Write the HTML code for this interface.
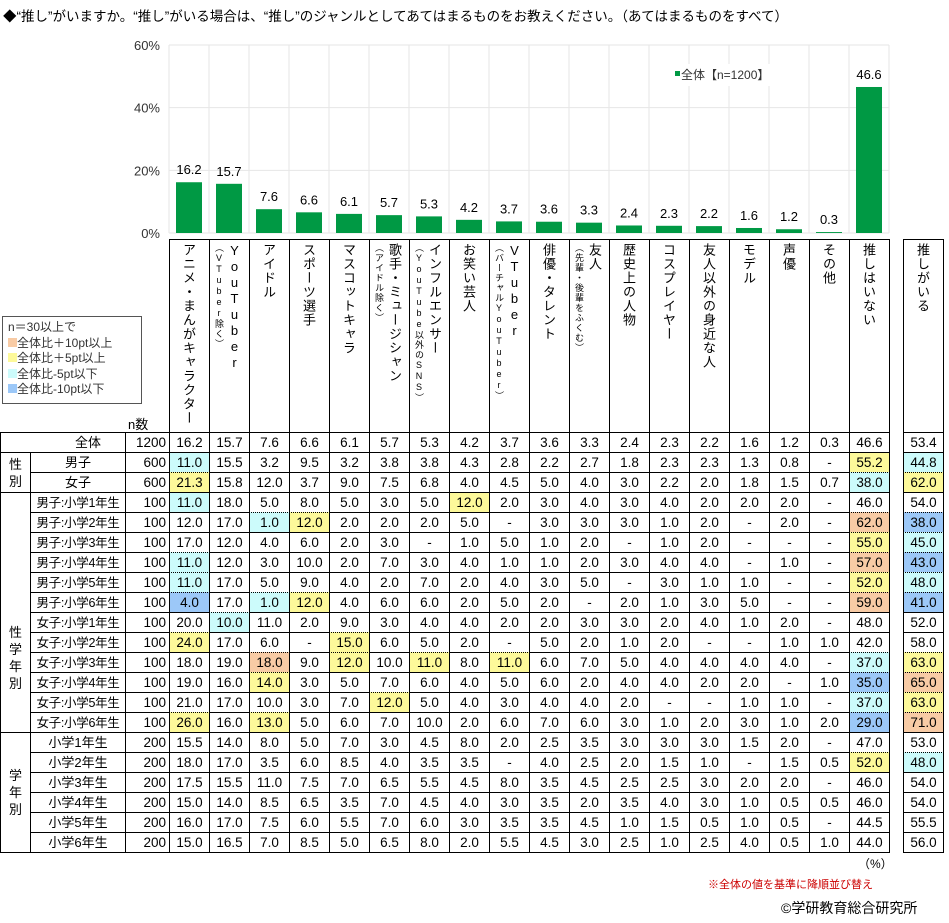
<!DOCTYPE html>
<html><head><meta charset="utf-8">
<style>
body{margin:0;width:949px;height:923px;background:#fff;font-family:"Liberation Sans","Noto Sans CJK JP",sans-serif;color:#000;position:relative;overflow:hidden}
.a{position:absolute;box-sizing:border-box}
.c{position:absolute;box-sizing:border-box;text-align:center;font-size:13.5px;line-height:20px;height:20px;white-space:nowrap}
.hd{position:absolute;box-sizing:border-box;writing-mode:vertical-rl;text-orientation:upright;font-size:13px;line-height:15px;padding-top:3px;letter-spacing:1px;white-space:nowrap}
.hd small{font-size:9px;line-height:13px;letter-spacing:1px}
</style></head><body>
<div class="a" style="left:3px;top:5px;font-size:13.5px;white-space:nowrap">◆“推し”がいますか。“推し”がいる場合は、“推し”のジャンルとしてあてはまるものをお教えください。（あてはまるものをすべて）</div>
<svg id="chart" class="a" style="left:0;top:0" width="949" height="240"></svg>
<div id="tbl"></div>
<div class="a" style="left:2px;top:316px;width:140px;height:88px;border:1px solid #555;font-size:12px;line-height:15.5px;padding:3px 0 0 5px;color:#333">
n＝30以上で<br>
<span style="display:inline-block;width:9px;height:9px;background:#f8cba5"></span>全体比＋10pt以上<br>
<span style="display:inline-block;width:9px;height:9px;background:#fdf99a"></span>全体比＋5pt以上<br>
<span style="display:inline-block;width:9px;height:9px;background:#ccfbfb"></span>全体比-5pt以下<br>
<span style="display:inline-block;width:9px;height:9px;background:#9cc8f8"></span>全体比-10pt以下</div>
<div class="a" style="left:128px;top:414px;font-size:13px">n数</div>
<div class="a" style="left:858px;top:855px;font-size:12px">（%）</div>
<div class="a" style="left:708px;top:876px;font-size:11px;color:#c00">※全体の値を基準に降順並び替え</div>
<div class="a" style="left:781px;top:898px;font-size:14px">©学研教育総合研究所</div>
<script>
const categories=["アニメ・まんがキャラクター","YouTuber|（VTuber除く）","アイドル","スポーツ選手","マスコットキャラ","歌手・ミュージシャン|（アイドル除く）","インフルエンサー|（YouTube以外のSNS）","お笑い芸人","VTuber|（バーチャルYouTuber）","俳優・タレント","友人|（先輩・後輩をふくむ）","歴史上の人物","コスプレイヤー","友人以外の身近な人","モデル","声優","その他","推しはいない"];
const overall=[16.2,15.7,7.6,6.6,6.1,5.7,5.3,4.2,3.7,3.6,3.3,2.4,2.3,2.2,1.6,1.2,0.3,46.6];
const yTicks=[0,20,40,60];
const rowLabels=["全体","男子","女子","男子:小学1年生","男子:小学2年生","男子:小学3年生","男子:小学4年生","男子:小学5年生","男子:小学6年生","女子:小学1年生","女子:小学2年生","女子:小学3年生","女子:小学4年生","女子:小学5年生","女子:小学6年生","小学1年生","小学2年生","小学3年生","小学4年生","小学5年生","小学6年生"];
const rowN=[1200,600,600,100,100,100,100,100,100,100,100,100,100,100,100,200,200,200,200,200,200];
const rowValues=[
"16.2 15.7 7.6 6.6 6.1 5.7 5.3 4.2 3.7 3.6 3.3 2.4 2.3 2.2 1.6 1.2 0.3 46.6 53.4",
"11.0 15.5 3.2 9.5 3.2 3.8 3.8 4.3 2.8 2.2 2.7 1.8 2.3 2.3 1.3 0.8 - 55.2 44.8",
"21.3 15.8 12.0 3.7 9.0 7.5 6.8 4.0 4.5 5.0 4.0 3.0 2.2 2.0 1.8 1.5 0.7 38.0 62.0",
"11.0 18.0 5.0 8.0 5.0 3.0 5.0 12.0 2.0 3.0 4.0 3.0 4.0 2.0 2.0 2.0 - 46.0 54.0",
"12.0 17.0 1.0 12.0 2.0 2.0 2.0 5.0 - 3.0 3.0 3.0 1.0 2.0 - 2.0 - 62.0 38.0",
"17.0 12.0 4.0 6.0 2.0 3.0 - 1.0 5.0 1.0 2.0 - 1.0 2.0 - - - 55.0 45.0",
"11.0 12.0 3.0 10.0 2.0 7.0 3.0 4.0 1.0 1.0 2.0 3.0 4.0 4.0 - 1.0 - 57.0 43.0",
"11.0 17.0 5.0 9.0 4.0 2.0 7.0 2.0 4.0 3.0 5.0 - 3.0 1.0 1.0 - - 52.0 48.0",
"4.0 17.0 1.0 12.0 4.0 6.0 6.0 2.0 5.0 2.0 - 2.0 1.0 3.0 5.0 - - 59.0 41.0",
"20.0 10.0 11.0 2.0 9.0 3.0 4.0 4.0 2.0 2.0 3.0 3.0 2.0 4.0 1.0 2.0 - 48.0 52.0",
"24.0 17.0 6.0 - 15.0 6.0 5.0 2.0 - 5.0 2.0 1.0 2.0 - - 1.0 1.0 42.0 58.0",
"18.0 19.0 18.0 9.0 12.0 10.0 11.0 8.0 11.0 6.0 7.0 5.0 4.0 4.0 4.0 4.0 - 37.0 63.0",
"19.0 16.0 14.0 3.0 5.0 7.0 6.0 4.0 5.0 6.0 2.0 4.0 4.0 2.0 2.0 - 1.0 35.0 65.0",
"21.0 17.0 10.0 3.0 7.0 12.0 5.0 4.0 3.0 4.0 4.0 2.0 - - 1.0 1.0 - 37.0 63.0",
"26.0 16.0 13.0 5.0 6.0 7.0 10.0 2.0 6.0 7.0 6.0 3.0 1.0 2.0 3.0 1.0 2.0 29.0 71.0",
"15.5 14.0 8.0 5.0 7.0 3.0 4.5 8.0 2.0 2.5 3.5 3.0 3.0 3.0 1.5 2.0 - 47.0 53.0",
"18.0 17.0 3.5 6.0 8.5 4.0 3.5 3.5 - 4.0 2.5 2.0 1.5 1.0 - 1.5 0.5 52.0 48.0",
"17.5 15.5 11.0 7.5 7.0 6.5 5.5 4.5 8.0 3.5 4.5 2.5 2.5 3.0 2.0 2.0 - 46.0 54.0",
"15.0 14.0 8.5 6.5 3.5 7.0 4.5 4.0 3.0 3.5 2.0 3.5 4.0 3.0 1.0 0.5 0.5 46.0 54.0",
"16.0 17.0 7.5 6.0 5.5 7.0 6.0 3.0 3.5 3.5 4.5 1.0 1.5 0.5 1.0 0.5 - 44.5 55.5",
"15.0 16.5 7.0 8.5 5.0 6.5 8.0 2.0 5.5 4.5 3.0 2.5 1.0 2.5 4.0 0.5 1.0 44.0 56.0"];

const X0=169,CW=40,Y0=233,YT=45;
const y=v=>Y0-(Y0-YT)*v/60;
const colX=i=>X0+i*CW;
const NS="http://www.w3.org/2000/svg";
const svg=document.getElementById('chart');
function sv(tag,at){const e=document.createElementNS(NS,tag);for(const k in at)e.setAttribute(k,at[k]);svg.appendChild(e);return e;}
const plotR=colX(categories.length);
yTicks.forEach(t=>{
  const g=sv('line',{x1:X0,x2:plotR,y1:y(t),y2:y(t),stroke:'#e6e6e6','stroke-width':1});
  
  
  const tx=sv('text',{x:160,y:y(t)+5,'text-anchor':'end','font-size':13,fill:'#333'});
  tx.textContent=t+'%';
  
  
});
for(let i=0;i<=categories.length;i++){
  const l=sv('line',{x1:colX(i),x2:colX(i),y1:YT,y2:Y0,stroke:'#e6e6e6','stroke-width':1});
  
  
}
overall.forEach((v,i)=>{
  const b=sv('rect',{x:colX(i)+7,y:y(v),width:26,height:Y0-y(v),fill:'#009944'});
  
  
  const t=sv('text',{x:colX(i)+20,y:y(v)-8,'text-anchor':'middle','font-size':13,fill:'#000'});
  t.textContent=v.toFixed(1);
  
  
});
const lg=sv('rect',{x:672,y:64,width:110,height:22,fill:'#fff'});


const ls=sv('rect',{x:675,y:71,width:5,height:5,fill:'#009944'});


const lt=sv('text',{x:681,y:79,'font-size':12,fill:'#333'});
lt.textContent='全体【n=1200】';



// table
const T=document.getElementById('tbl');
function div(cls,st,html){const d=document.createElement('div');d.className=cls;d.style.cssText=st;if(html!==undefined)d.innerHTML=html;T.appendChild(d);return d;}
const HT=239,TT=432,RH=20,XR=903;
categories.forEach((c,i)=>{
  const p=c.split('|');
  const h=div('hd','left:'+colX(i)+'px;top:'+HT+'px;width:'+(CW+1)+'px;height:'+(TT-HT+1)+'px;border:1px solid #000;padding-right:'+(p[1]?7:13)+'px',p[0]+(p[1]?'<br><small>'+p[1]+'</small>':''));
  
  
});
const hh=div('hd','left:'+XR+'px;top:'+HT+'px;width:'+(CW+1)+'px;height:'+(TT-HT+1)+'px;border:1px solid #000;padding-right:13px','推しがいる');


function bg(v,base){if(v==='-')return'';const d=parseFloat(v)-base;if(d>=10)return'#f8cba5';if(d>=5)return'#fdf99a';if(d<=-10)return'#9cc8f8';if(d<=-5)return'#ccfbfb';return'';}
const base=rowValues[0].split(' ').map(parseFloat);
const solidAfter=[0,2,14,20];
rowValues.forEach((r,ri)=>{
  const top=TT+ri*RH;
  const vals=r.split(' ');
  const bt=(ri===0||solidAfter.includes(ri-1))?'1px solid #000':'1px dotted #000';
  const lx=ri===0?0:30;
  const lab=div('c','left:'+lx+'px;top:'+top+'px;width:'+(125-lx+1)+'px;height:'+(RH+1)+'px;border:1px solid #000;border-top:'+bt+';font-size:'+(ri>2&&ri<15?'12.5px;letter-spacing:-0.3px':'13px')+';padding-left:'+(ri===0?50:0)+'px',rowLabels[ri]);
  
  
  const n=div('c','left:125px;top:'+top+'px;width:45px;height:'+(RH+1)+'px;border:1px solid #000;border-top:'+bt+';text-align:right;padding-right:3px',rowN[ri]);
  
  
  vals.forEach((v,ci)=>{
    const x=ci<18?colX(ci):XR;
    const col=ri===0?'':bg(v,base[ci]);
    const cell=div('c','left:'+x+'px;top:'+top+'px;width:'+(CW+1)+'px;height:'+(RH+1)+'px;border:1px solid #000;border-top:'+bt+';background:'+(col||'transparent'),v);
    
    
  });
});
[["性<br>別",1,2],["性<br>学<br>年<br>別",3,14],["学<br>年<br>別",15,20]].forEach(g=>{
  const t=TT+g[1]*RH,h=(g[2]-g[1]+1)*RH+1;
  const d=div('a','left:0;top:'+t+'px;width:31px;height:'+h+'px;border:1px solid #000;display:flex;align-items:'+(g[1]===3?'flex-end':'center')+';justify-content:center;text-align:center;font-size:13px;line-height:17px;background:#fff;padding-bottom:'+(g[1]===3?'40px':'0'),g[0]);
  
  
});
</script>
</body></html>
